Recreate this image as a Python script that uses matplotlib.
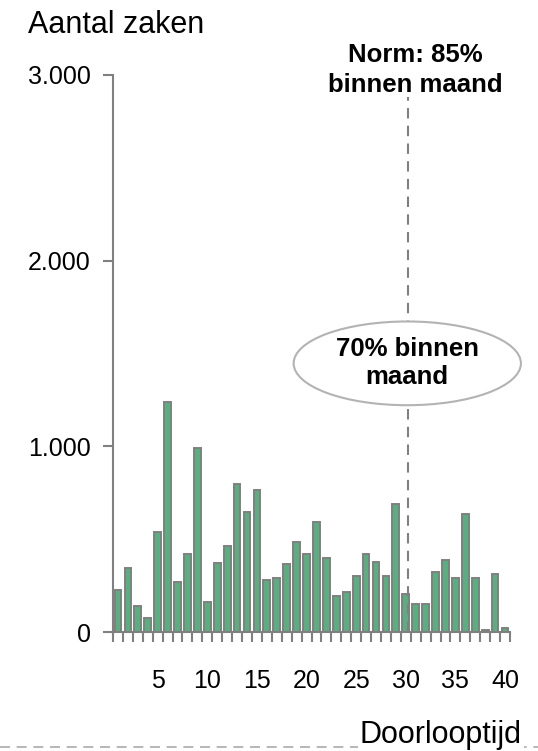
import matplotlib
matplotlib.use("Agg")
import matplotlib.pyplot as plt
import numpy as np
from matplotlib.patches import Ellipse
from matplotlib.lines import Line2D

plt.rcParams['font.family'] = ['Liberation Sans', 'DejaVu Sans']

# Data
doorlooptijd = list(range(1, 41))
aantal_zaken = [227, 344, 140, 74, 538, 1241, 270, 420, 993, 161,
                370, 464, 797, 647, 765, 279, 290, 366, 484, 420,
                591, 397, 192, 216, 299, 420, 377, 299, 688, 203,
                149, 149, 324, 388, 290, 634, 290, 11, 312, 22]
x_tick_values = [5, 10, 15, 20, 25, 30, 35, 40]
y_tick_values = [0, 1000, 2000, 3000]
y_tick_labels = ["0", "1.000", "2.000", "3.000"]

W, H = 538, 751
fig = plt.figure(figsize=(W / 100, H / 100), dpi=100)
ax = fig.add_axes([113 / W, 1 - 632 / H, (510 - 113) / W, (632 - 75) / H])

gray = "#808080"
green = "#5BAE80"

ax.bar(doorlooptijd, aantal_zaken, width=0.68, color=green,
       edgecolor=gray, linewidth=1.4, zorder=2)

ax.set_xlim(0.5, 40.5)
ax.set_ylim(0, 3000)

for s in ['top', 'right']:
    ax.spines[s].set_visible(False)
for s in ['left', 'bottom']:
    ax.spines[s].set_color(gray)
    ax.spines[s].set_linewidth(1.5)

ax.set_yticks(y_tick_values)
ax.set_yticklabels(y_tick_labels)
ax.tick_params(axis='y', length=7.2, width=1.5, color=gray, pad=9,
               labelsize=18)

ax.set_xticks(x_tick_values)
ax.set_xticklabels([str(v) for v in x_tick_values])
ax.set_xticks(np.arange(0.5, 41, 1.0), minor=True)
ax.tick_params(axis='x', which='major', length=0, pad=27, labelsize=18)
ax.tick_params(axis='x', which='minor', length=7.2, width=1.5, color=gray)

# Dashed norm line
ax.plot([30.25, 30.25], [0, 2880], color=gray, lw=1.5,
        linestyle=(0, (5, 3.5)), zorder=3, clip_on=False)

# Ellipse annotation
ell = Ellipse((30.15, 1447), width=22.9, height=451, facecolor='white',
              edgecolor='#b3b3b3', lw=1.5, zorder=4, clip_on=False)
ax.add_patch(ell)
ax.text(30.15, 1447, "70% binnen\nmaand", ha='center', va='center',
        fontsize=18.5, fontweight='bold', zorder=5, linespacing=1.2)

# Figure texts
fig.text(28 / W, 1 - 25 / H, "Aantal zaken", ha='left', va='center',
         fontsize=22)
fig.text(415 / W, 1 - 70 / H, "Norm: 85%\nbinnen maand", ha='center',
         va='center', fontsize=18.5, fontweight='bold', linespacing=1.3)

# Bottom dashed line
fig.add_artist(Line2D([0, 1], [1 - 747 / H, 1 - 747 / H],
                      transform=fig.transFigure, color='#aaaaaa', lw=1.2,
                      linestyle=(0, (6, 4))))
fig.text(522 / W, 1 - 735 / H, "Doorlooptijd", ha='right', va='center',
         fontsize=22, bbox=dict(facecolor='white', edgecolor='none', pad=1))

fig.savefig("out.png", dpi=100)
